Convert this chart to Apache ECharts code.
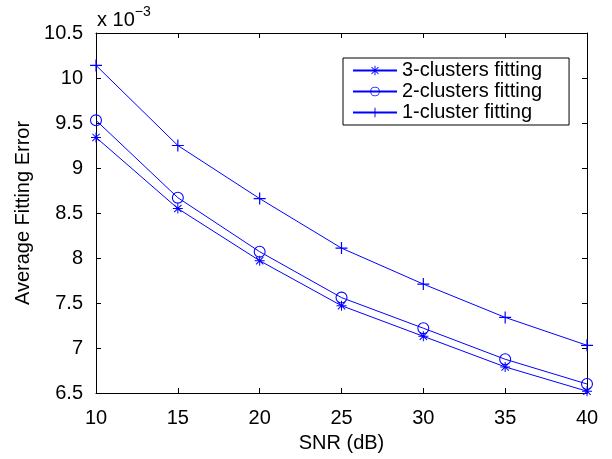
<!DOCTYPE html>
<html>
<head>
<meta charset="utf-8">
<script src="https://cdn.jsdelivr.net/npm/echarts@6/dist/echarts.min.js"></script>
<style>
  html, body { margin: 0; padding: 0; background: #fff; }
  #chart { width: 612px; height: 459px; }
</style>
</head>
<body>
<div id="chart"></div>
<script>
// values are in units of 10^-3 (as shown on the axis)
const snr = [10, 15, 20, 25, 30, 35, 40]
const threeClusters = [9.34, 8.55, 7.97, 7.47, 7.13, 6.79, 6.52]
const twoClusters = [9.53, 8.67, 8.07, 7.56, 7.22, 6.875, 6.60]
const oneCluster = [10.14, 9.25, 8.66, 8.11, 7.71, 7.34, 7.03]
const seriesNames = ['3-clusters fitting', '2-clusters fitting', '1-cluster fitting']

const font = 'Liberation Sans, Arial, sans-serif'
const blue = '#0000ff'

// marker shapes, matlab-like (filled outlines so the stroke stays thin)
const plusPath = 'path://M4.5,0H5.5V10H4.5Z M0,4.5H10V5.5H0Z'
const starPath = 'path://M4.5,0H5.5V10H4.5Z M0,4.5H10V5.5H0Z M1,1.7L1.7,1L9,8.3L8.3,9Z M8.3,1L9,1.7L1.7,9L1,8.3Z'
const ringPath = 'path://M5,0A5,5 0 1 1 5,10A5,5 0 1 1 5,0Z M5,0.9A4.1,4.1 0 1 0 5,9.1A4.1,4.1 0 1 0 5,0.9Z'

const toPairs = ys => snr.map((x, i) => [x, ys[i]])

const chart = echarts.init(document.getElementById('chart'))

const axisBase = {
    axisLine: { show: true, onZero: false, lineStyle: { color: '#000', width: 1 } },
    axisTick: { show: true, inside: true, length: 5, lineStyle: { color: '#000' } },
    splitLine: { show: false }
}

const option = {
    animation: false,
    grid: { left: 96, right: 25, top: 33, bottom: 66, containLabel: false },
    xAxis: [
        {
            ...axisBase,
            type: 'value', min: 10, max: 40, interval: 5,
            name: 'SNR (dB)', nameLocation: 'middle', nameGap: 40,
            nameTextStyle: { fontFamily: font, fontSize: 20, color: '#000' },
            axisLabel: { fontFamily: font, fontSize: 20, color: '#000', margin: 15 }
        },
        {
            ...axisBase,
            type: 'value', min: 10, max: 40, interval: 5, position: 'top',
            axisLabel: { show: false }
        }
    ],
    yAxis: [
        {
            ...axisBase,
            type: 'value', min: 6.5, max: 10.5, interval: 0.5,
            name: 'Average Fitting Error', nameLocation: 'middle', nameGap: 48,
            nameTextStyle: { fontFamily: font, fontSize: 20, color: '#000' },
            axisLabel: { fontFamily: font, fontSize: 20, color: '#000', margin: 13 }
        },
        {
            ...axisBase,
            type: 'value', min: 6.5, max: 10.5, interval: 0.5, position: 'right',
            axisLabel: { show: false }
        }
    ],
    legend: {
        orient: 'vertical',
        left: 343, top: 58,
        padding: [2, 27, 2, 9],
        itemWidth: 44, itemHeight: 12, itemGap: 0,
        borderColor: '#000', borderWidth: 1,
        backgroundColor: '#fff',
        textStyle: { fontFamily: font, fontSize: 20, color: '#000', lineHeight: 21 },
        data: seriesNames
    },
    graphic: [{
        type: 'text', left: 97, top: 5,
        style: {
            text: '{b|x 10}{s|−3}',
            rich: {
                b: { fontFamily: font, fontSize: 20, fill: '#000', padding: [8, 0, 0, 0] },
                s: { fontFamily: font, fontSize: 14, fill: '#000', padding: [0, 0, 8, 0] }
            }
        }
    }],
    series: [
        {
            name: seriesNames[0], type: 'line', data: toPairs(threeClusters),
            symbol: starPath, symbolSize: 10,
            itemStyle: { color: blue }, lineStyle: { color: blue, width: 1 }
        },
        {
            name: seriesNames[1], type: 'line', data: toPairs(twoClusters),
            symbol: ringPath, symbolSize: 12,
            itemStyle: { color: blue }, lineStyle: { color: blue, width: 1 }
        },
        {
            name: seriesNames[2], type: 'line', data: toPairs(oneCluster),
            symbol: plusPath, symbolSize: 12,
            itemStyle: { color: blue }, lineStyle: { color: blue, width: 1 }
        }
    ]
}

chart.setOption(option)
</script>
</body>
</html>
